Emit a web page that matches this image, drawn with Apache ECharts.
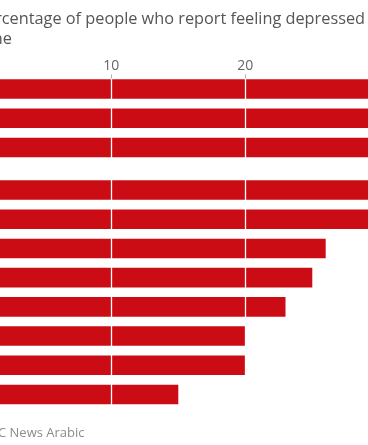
<!DOCTYPE html>
<html>
<head>
<meta charset="utf-8">
<script src="https://cdn.jsdelivr.net/npm/echarts@6/dist/echarts.min.js"></script>
<style>
html,body{margin:0;padding:0;width:368px;height:445px;overflow:hidden;background:#fff;}
#chart{position:absolute;left:-150px;top:0;width:680px;height:445px;}
</style>
</head>
<body>
<div id="chart"></div>
<script>
// Data (group 1 and group 2 of the bar chart), percent
const groupACategories = ['Iraq', 'Tunisia', 'Palestinian territories'];
const groupAValues = [43, 40, 37];
const groupBCategories = ['Lebanon', 'Jordan', 'Yemen', 'Egypt', 'Libya', 'Sudan', 'Algeria', 'Morocco'];
const groupBValues = [35, 31, 26, 25, 23, 20, 20, 15];
const xTicks = [0, 10, 20, 30, 40];

const titleLine1 = 'Percentage of people who report feeling depressed';
const titleLine2 = 'June';
const sourceText = 'Source: Arab Barometer, BBC News Arabic';

const RED = '#cc0c14';
const FONT = '"Open Sans", "Noto Sans", sans-serif';

const chart = echarts.init(document.getElementById('chart'), null, {renderer: 'canvas'});

function xAxisFor(gridIndex, showLabels) {
  return {
    type: 'value', gridIndex: gridIndex, position: 'top',
    min: xTicks[0], max: xTicks[xTicks.length - 1], interval: xTicks[1] - xTicks[0],
    z: 5,
    axisLine: {show: false},
    axisTick: {show: showLabels, inside: true, length: 4, lineStyle: {color: '#b0b0b0', width: 1}},
    axisLabel: {show: showLabels, color: '#666', fontSize: 14, fontFamily: FONT, margin: 1},
    splitLine: {show: true, lineStyle: {color: '#ffffff', width: 1.3}}
  };
}
function yAxisFor(gridIndex, cats) {
  return {
    type: 'category', gridIndex: gridIndex, data: cats, inverse: true,
    axisLine: {show: false}, axisTick: {show: false},
    axisLabel: {show: true, color: '#333', fontSize: 14, fontFamily: FONT}
  };
}

chart.setOption({
  animation: false,
  backgroundColor: '#ffffff',
  textStyle: {fontFamily: FONT},
  grid: [
    {left: 127.3, right: 16.7, top: 74.4, height: 87.8, containLabel: false, outerBoundsMode: 'none'},
    {left: 127.3, right: 16.7, top: 175.4, height: 233.7, containLabel: false, outerBoundsMode: 'none'}
  ],
  xAxis: [xAxisFor(0, true), xAxisFor(1, false)],
  yAxis: [yAxisFor(0, groupACategories), yAxisFor(1, groupBCategories)],
  series: [
    {type: 'bar', xAxisIndex: 0, yAxisIndex: 0, data: groupAValues, barCategoryGap: '33%',
     itemStyle: {color: RED}, z: 2},
    {type: 'bar', xAxisIndex: 1, yAxisIndex: 1, data: groupBValues, barCategoryGap: '33%',
     itemStyle: {color: RED}, z: 2}
  ],
  graphic: [
    {type: 'text', x: 515, y: 11, style: {text: titleLine1, align: 'right', verticalAlign: 'top',
      fill: '#555', font: '16.3px ' + FONT}},
    {type: 'text', x: 162, y: 31, style: {text: titleLine2, align: 'right', verticalAlign: 'top',
      fill: '#555', font: '16.3px ' + FONT}},
    {type: 'text', x: 234.5, y: 427, style: {text: sourceText, align: 'right', verticalAlign: 'top',
      fill: '#8c8c8c', font: '13px ' + FONT}}
  ]
});
</script>
</body>
</html>
